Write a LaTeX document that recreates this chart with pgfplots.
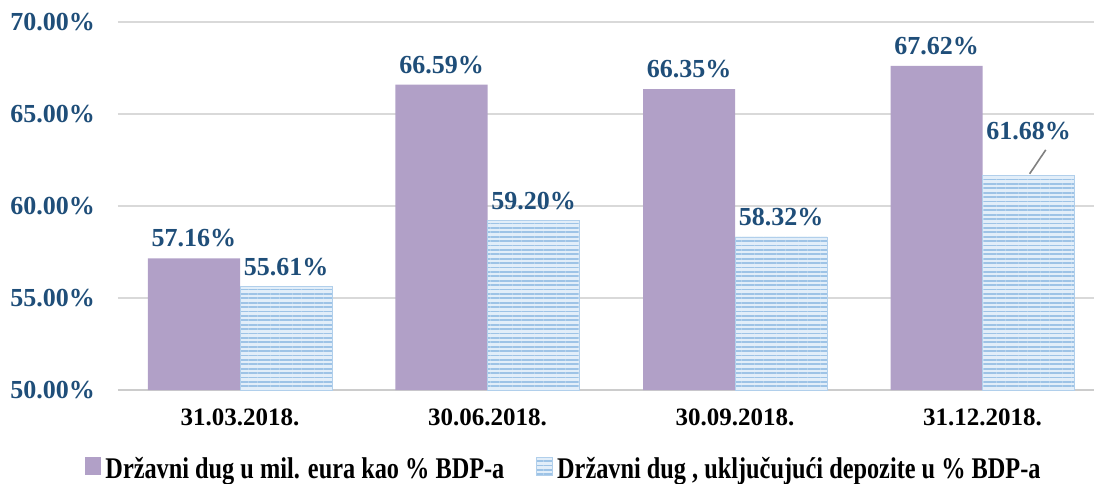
\documentclass[border=0pt]{standalone}
\usepackage{fontspec}
\setmainfont{Liberation Serif}
\newfontfamily\legfont[FakeStretch=0.81]{Liberation Serif}
\usepackage{pgfplots}
\pgfplotsset{compat=1.18}
\usetikzlibrary{patterns.meta}
\definecolor{debt}{HTML}{B1A0C7}
\definecolor{stripe}{HTML}{9DC3E6}
\definecolor{stripebg}{HTML}{E2EEF9}
\definecolor{lbl}{HTML}{1F4E79}
\tikzset{striped/.style={fill=stripebg, draw=stripe!80,
  postaction={pattern={Lines[angle=0,distance=2.2pt,line width=0.9pt]}, pattern color=stripe}}}
\begin{document}
\begin{tikzpicture}
\begin{axis}[
  name=ax,
  scale only axis, width=488pt, height=184pt,
  ymin=50, ymax=70, ytick={50,55,60,65,70},
  xmin=-0.493, xmax=3.45,
  xtick={0,1,2,3},
  xticklabels={31.03.2018.,30.06.2018.,30.09.2018.,31.12.2018.},
  x tick label style={font=\bfseries\fontsize{12.5}{13}\selectfont, text=black, yshift=-6pt},
  y tick label style={font=\bfseries\fontsize{13}{14}\selectfont, text=lbl, xshift=-8pt},
  yticklabel={\pgfmathprintnumber[fixed,fixed zerofill,precision=2]{\tick}\%},
  /pgf/number format/assume math mode=true,
  major tick length=0pt,
  axis x line*=bottom, axis y line*=left,
  axis line style={draw=gray!40, line width=0.8pt},
  y axis line style={draw=none},
  ymajorgrids, grid style={gray!30, line width=0.8pt},
  ybar, bar width=0.372,
  nodes near coords={\pgfmathprintnumber[fixed,fixed zerofill,precision=2]{\pgfplotspointmeta}\%},
  nodes near coords style={font=\bfseries\fontsize{13}{14}\selectfont, text=lbl, anchor=south, yshift=2pt},
  legend style={at={(0.458,-0.16)}, anchor=north, draw=none, fill=none,
    legend columns=-1, font=\legfont\bfseries\fontsize{15}{16}\selectfont,
    /tikz/every even column/.append style={column sep=14pt}},
  legend image code/.code={\path[#1,draw=none] (0pt,-3pt) rectangle (8pt,6pt);},
]
\addplot[fill=debt, draw=none, bar shift=-0.186] coordinates {(0,57.16) (1,66.59) (2,66.35) (3,67.62)};
\addlegendentry{Državni dug u mil. eura kao \% BDP-a}
\addplot[striped, bar shift=0.186] coordinates {(0,55.61) (1,59.20) (2,58.32)};
\addlegendentry{Državni dug , uključujući depozite u \% BDP-a}
\addplot[striped, bar shift=0.186, forget plot,
  nodes near coords style={yshift=12pt}] coordinates {(3,61.68)};
\draw[gray, line width=0.8pt] (axis cs:3.19,61.75) -- (axis cs:3.255,63.05);
\end{axis}
\pgfresetboundingbox
\path ([xshift=-59pt,yshift=-46.5pt]ax.south west) rectangle ([yshift=11pt]ax.north east);
\end{tikzpicture}
\end{document}
